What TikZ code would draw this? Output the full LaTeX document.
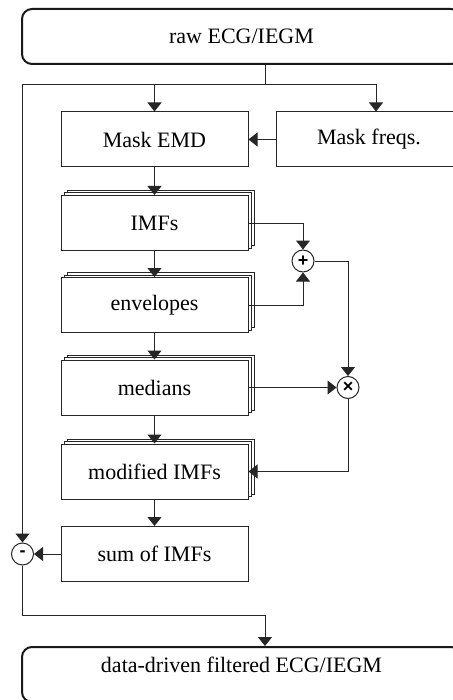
\documentclass[tikz,border=0pt]{standalone}
\usepackage{fontspec}
\setmainfont{Liberation Serif}
\newfontfamily\opfont{Liberation Sans}
\usetikzlibrary{arrows.meta}

\begin{document}
\begin{tikzpicture}
[x=0.5pt,y=-0.5pt,font=\fontsize{11}{13}\selectfont,
  lineDecorate/.style={-{Triangle[width=7pt,length=4.5pt]},draw=black!85,line width=0.5pt},
  plainDecorate/.style={-,draw=black!85,line width=0.5pt},
  boxDecorate/.style={shape=rectangle,draw=black!85,fill=white,line width=0.5pt,
    minimum width=93.5pt,minimum height=27.5pt,inner sep=0pt},
  stackDecorate/.style={boxDecorate,
    preaction={draw=black!85,fill=white,line width=0.5pt,transform canvas={xshift=3pt,yshift=2.5pt}},
    preaction={draw=black!85,fill=white,line width=0.5pt,transform canvas={xshift=1.5pt,yshift=1.25pt}}},
  roundDecorate/.style={shape=rectangle,draw=black!90,line width=1pt,rounded corners=5pt,
    minimum width=219.5pt,minimum height=27.5pt,inner sep=0pt},
  opDecorate/.style={shape=circle,draw=black!85,fill=white,line width=0.5pt,
    minimum size=11pt,inner sep=0pt,font=\opfont\bfseries\fontsize{9}{9}\selectfont}]
\useasboundingbox (0,0) rectangle (453,700);
%% input and output
\node (raw) at (241.5,36.5) [roundDecorate] {raw ECG/IEGM};
\node (final) at (241.5,674.5) [roundDecorate,text depth=9.3pt] {data-driven filtered ECG/IEGM};
%% blocks
\node (emd) at (154.5,139.5) [boxDecorate] {Mask EMD};
\node (freqs) at (369,139.5) [boxDecorate,minimum width=93pt] {Mask freqs.};
\foreach \nodename/\y/\caption in {
  imfs/223/IMFs, env/305/envelopes, med/387.5/medians, mod/471.5/modified IMFs}
{
  \node (\nodename) at (154.5,\y) [stackDecorate] {\caption};
}
\node (sum) at (154.5,554) [boxDecorate] {sum of IMFs};
%% operators
\foreach \nodename/\x/\y/\symbol in {plus/303/261/+, times/348/387.5/×, minus/22.5/554/-}
{
  \node (\nodename) at (\x,\y) [opDecorate] {\symbol};
}
%% branch points
\coordinate (split) at (265,85);
\coordinate (merge) at (265,615);
%% edges or lines
\path
\foreach \startnode/\endnode in {emd/imfs, imfs/env, env/med, med/mod, mod/sum,
  freqs/emd, med/times, sum/minus}
{
  (\startnode) edge[lineDecorate] (\endnode)
};
\draw[plainDecorate] (raw.south -| split) -- (split);
\draw[lineDecorate] (split) -| (emd.north);
\draw[lineDecorate] (split) -| ([xshift=3.5pt]freqs.north);
\draw[lineDecorate] (split) -| (minus.north);
\draw[lineDecorate] (imfs.east) -| (plus.north);
\draw[lineDecorate] (env.east) -| (plus.south);
\draw[lineDecorate] (plus.east) -| (times.north);
\draw[lineDecorate] (times.south) |- (mod.east);
\draw[plainDecorate] (minus.south) |- (merge);
\draw[lineDecorate] (merge) -- (final.north -| merge);
\end{tikzpicture}
\end{document}
